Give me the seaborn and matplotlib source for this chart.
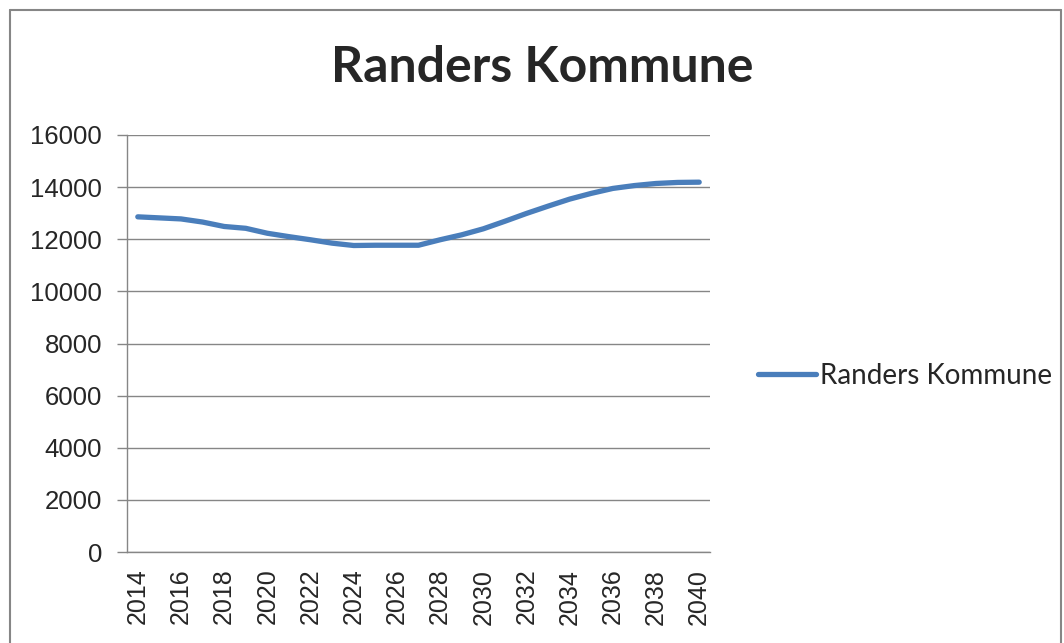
import matplotlib
matplotlib.use("Agg")
from matplotlib import pyplot as plt
from matplotlib.lines import Line2D
import pandas as pd
import seaborn as sns

years = list(range(2014, 2041))
values = [12860, 12820, 12780, 12660, 12490, 12420, 12230, 12100, 11980,
          11850, 11760, 11770, 11770, 11770, 11980, 12170, 12400, 12690,
          12990, 13270, 13540, 13760, 13950, 14060, 14140, 14180, 14190]
series_name = "Randers Kommune"
y_ticks = [0, 2000, 4000, 6000, 8000, 10000, 12000, 14000, 16000]
x_labels = list(range(2014, 2041, 2))

df = pd.DataFrame({"year": years, "value": values, "serie": series_name})

sns.set_style("white")
plt.rcParams["font.family"] = ["Liberation Sans", "DejaVu Sans"]

fig = plt.figure(figsize=(10.64, 6.43), dpi=100)
ax = fig.add_axes([127 / 1064, 1 - 552 / 643, 583 / 1064, 417 / 643])

sns.lineplot(data=df, x="year", y="value", color="#4A7EBB", linewidth=3.8,
             ax=ax, legend=False, solid_capstyle="round")

ax.set_xlim(2013.5, 2040.5)
ax.set_ylim(0, 16000)
ax.set_yticks(y_ticks)
ax.set_yticklabels([str(v) for v in y_ticks], fontsize=18.5)
ax.set_xticks(x_labels)
ax.set_xticklabels([str(v) for v in x_labels], rotation=90, fontsize=18)
ax.set_xticks([y - 0.5 for y in range(2014, 2042)], minor=True)
ax.tick_params(axis="x", which="major", length=0, pad=12)
ax.tick_params(axis="x", which="minor", length=6, color="#868686", width=1)
ax.tick_params(axis="y", length=7, color="#868686", width=1, pad=11,
               direction="out", left=True)
ax.set_xlabel("")
ax.set_ylabel("")
ax.grid(axis="y", color="#868686", linewidth=1)
ax.set_axisbelow(True)
for s in ["top", "right"]:
    ax.spines[s].set_visible(False)
for s in ["left", "bottom"]:
    ax.spines[s].set_color("#868686")
    ax.spines[s].set_linewidth(1)

fig.text(542 / 1064, 1 - 68 / 643, "Randers Kommune", ha="center", va="center",
         fontsize=36, fontweight="bold", family=["Lato", "DejaVu Sans"])

handle = Line2D([], [], color="#4A7EBB", linewidth=3.8, solid_capstyle="round")
fig.legend([handle], [series_name], loc="center left",
           bbox_to_anchor=(733 / 1064, 1 - 376 / 643), frameon=False,
           handlelength=2.1, handletextpad=0.15,
           prop={"family": ["Lato", "DejaVu Sans"], "size": 20})

# outer chart border
fig.add_artist(Line2D([10 / 1064, 10 / 1064], [0, 1 - 10 / 643], color="#868686", lw=1.5))
fig.add_artist(Line2D([10 / 1064, 1061 / 1064], [1 - 10 / 643, 1 - 10 / 643], color="#868686", lw=1.5))
fig.add_artist(Line2D([1061 / 1064, 1061 / 1064], [0, 1 - 10 / 643], color="#868686", lw=1.5))

fig.savefig("out.png", dpi=100)
